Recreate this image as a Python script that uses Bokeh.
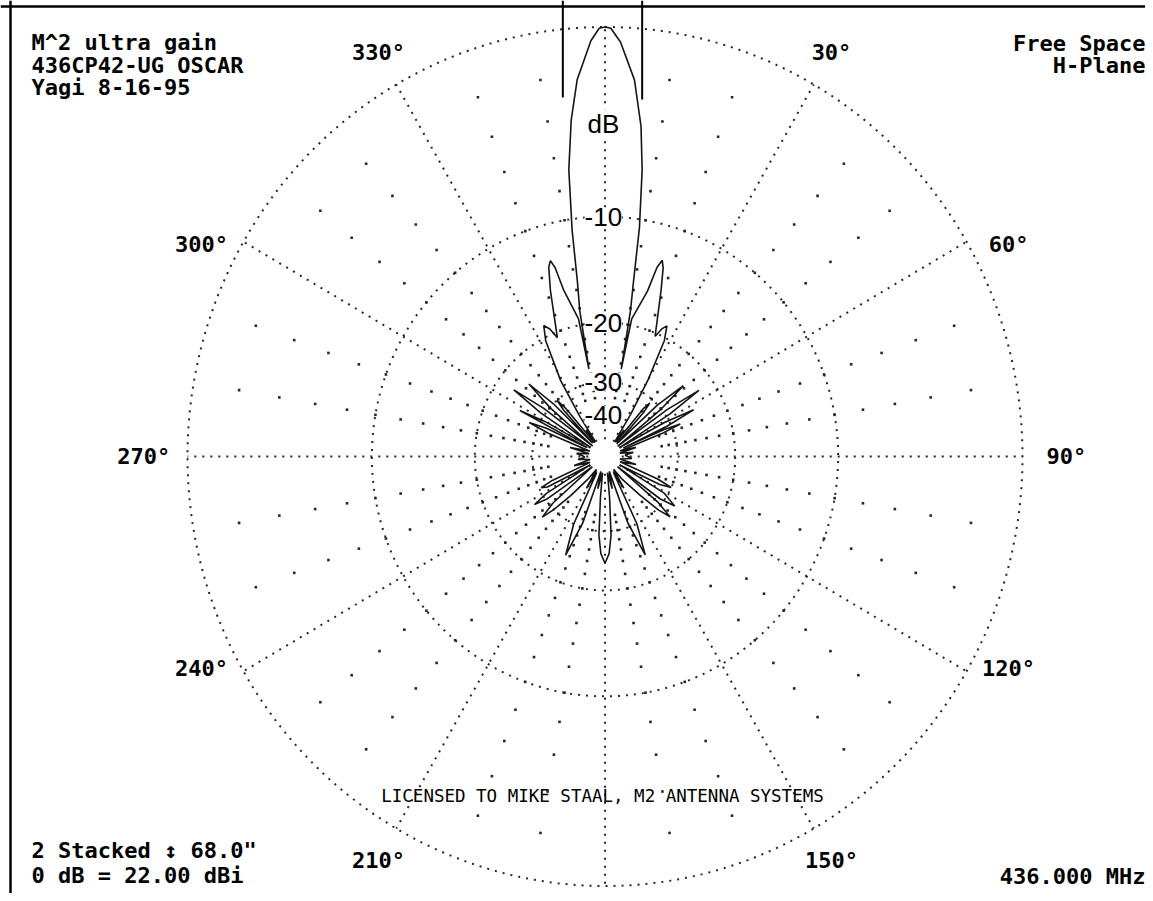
import numpy as np
from bokeh.plotting import figure
from bokeh.models import Range1d, Label, Span
from bokeh.core.properties import value
from bokeh.embed import file_html
from bokeh.resources import INLINE

# ---------------- data ----------------
# azimuth in degrees (clockwise from the front, 0 = top) and relative gain in dB
pattern_az = [
    -180, -177.5, -175.5, -173.5, -171, -167, -164, -161, -157.7, -154.5,
    -152, -149, -146, -142, -138, -135.2, -133.2, -131, -128, -125.5,
    -123.5, -121.5, -119, -117.2, -115.5, -113.8, -111, -106, -101, -96,
    -92, -88, -84, -80, -76, -71, -68.2, -66.5, -64.9, -64.0,
    -63.9, -62.3, -60.4, -58.5, -56.6, -54.6, -52.6, -50.5, -49.2, -47.2,
    -45.2, -43.5, -42.6, -41.3, -40.0, -38.5, -36, -33.8, -32.9, -31,
    -27.8, -25.7, -24, -22.4, -18.7, -17, -16, -15.2, -14.3, -11.2,
    -10.7, -10.1, -9.2, -8.5, -7.4, -5.9, -4.35, -2.0, -0.8, 0,
    0.8, 2.2, 4.6, 6.4, 7.6, 8.8, 9.5, 10.2, 10.8, 11.3,
    14.8, 15.8, 16.7, 17.6, 19.2, 23.2, 24.6, 26, 27.8, 30,
    32, 34.5, 36.5, 38.5, 39.6, 40.8, 42.0, 43.5, 46.4, 48.7,
    50.6, 52, 53.7, 55.6, 57.5, 59.3, 61.0, 62.9, 64.6, 65.4,
    66.0, 67.2, 68.6, 70.5, 74, 78, 82, 86, 90, 94,
    99, 104, 109, 112.6, 114.5, 116.4, 119, 121.0, 124.6, 126.8,
    128.5, 130.0, 132, 134.2, 137, 142, 145.5, 148.5, 151.5, 154,
    157.2, 160.5, 163.5, 167, 171, 173.5, 175.5, 177.5, 180,
]
pattern_db = [
    -23.9, -25.5, -29.0, -40.0, -56.0, -44.0, -57.0, -31.0, -23.9, -30.0,
    -54.0, -42.0, -57.0, -46.0, -36.0, -30.0, -27.1, -31.0, -56.0, -30.5,
    -27.4, -31.0, -55.0, -32.0, -30.5, -34.0, -56.0, -44.0, -57.0, -47.0,
    -52.0, -50.0, -46.0, -56.0, -42.0, -56.0, -33.0, -27.8, -32.0, -52.0,
    -52.0, -25.2, -31.0, -55.0, -29.0, -22.6, -29.0, -56.0, -30.0, -23.9,
    -30.0, -54.0, -33.0, -30.0, -33.0, -55.0, -44.0, -55.0, -38.0, -27.1,
    -20.4, -18.6, -19.3, -20.7, -15.4, -13.3, -12.8, -13.5, -15.8, -19.2,
    -27.0, -18.3, -15.1, -10.8, -6.8, -4.1, -2.2, -0.55, -0.05, 0.0,
    -0.05, -0.6, -2.2, -4.4, -6.8, -10.6, -15.1, -18.3, -27.0, -19.2,
    -15.8, -13.4, -12.7, -13.3, -15.4, -20.4, -19.2, -18.6, -20.4, -27.0,
    -37.0, -55.0, -44.0, -54.0, -33.0, -31.0, -34.0, -55.0, -30.0, -23.8,
    -30.0, -56.0, -29.0, -22.3, -29.0, -55.0, -31.0, -24.6, -31.0, -52.0,
    -32.0, -28.0, -33.0, -56.0, -44.0, -57.0, -46.0, -52.0, -50.0, -47.0,
    -57.0, -44.0, -56.0, -34.0, -30.0, -33.0, -55.0, -31.0, -27.4, -31.0,
    -56.0, -31.0, -26.8, -29.5, -36.0, -46.0, -57.0, -42.0, -54.0, -30.0,
    -23.9, -31.0, -57.0, -44.0, -56.0, -40.0, -29.0, -25.5, -23.9,
]

grid_db = [0, -10, -20, -30]                       # dotted rings
spoke_az = [0, 30, 60, 90, 120, 150, 180, 210, 240, 270, 300, 330]
minor_az = [a for a in range(0, 360, 10) if a % 30 != 0]
minor_db_step = [-2 * k for k in range(1, 18)]     # dots every 2 dB

ring_labels = ["30°", "60°", "90°", "120°", "150°", "210°", "240°", "270°", "300°", "330°"]
ring_label_az = [30, 60, 90, 120, 150, 210, 240, 270, 300, 330]

db_labels = ["dB", "-10", "-20", "-30", "-40"]
db_label_levels = [-4.4, -10, -20, -30, -40]

title_lines = ["M^2 ultra gain", "436CP42-UG OSCAR", "Yagi 8-16-95"]
right_lines = ["Free Space", "H-Plane"]
bottom_lines = ["2 Stacked \u2195 68.0\"", "0 dB = 22.00 dBi"]
freq_text = "436.000 MHz"
license_text = "LICENSED TO MIKE STAAL, M2 ANTENNA SYSTEMS"
beam_marker_x = [-0.101, 0.089]   # the two marker lines above the main lobe


# ---------------- ARRL log polar scale ----------------
def arrl_r(db):
    return 0.89 ** (-np.asarray(db, dtype=float) / 2.0)


def to_xy(az_deg, r):
    a = np.radians(np.asarray(az_deg, dtype=float))
    return r * np.sin(a), r * np.cos(a)


W, H = 1145, 893
cx, cy = 604.5, 456.0          # centre in canvas pixels
sx, sy = 417.5, 429.5          # pixels per unit radius

p = figure(width=W, height=H,
           x_range=Range1d(-cx / sx, (W - cx) / sx),
           y_range=Range1d(-(H - cy) / sy, cy / sy),
           output_backend="svg", toolbar_location=None,
           x_axis_location=None, y_axis_location=None,
           min_border=0, match_aspect=False)
p.grid.visible = False
p.outline_line_color = None
p.background_fill_color = "white"
p.border_fill_color = "white"

GRID_COL = "#262626"
theta = np.linspace(0, 360, 721)
for d in grid_db:
    gx, gy = to_xy(theta, arrl_r(d))
    p.line(gx, gy, line_color=GRID_COL, line_width=2, line_dash="2 6")

sx0, sy0 = to_xy(spoke_az, 0.04)
sx1, sy1 = to_xy(spoke_az, 1.0)
p.segment(x0=sx0, y0=sy0, x1=sx1, y1=sy1, line_color=GRID_COL,
          line_width=2, line_dash="2 6")

ma, md = np.meshgrid(minor_az, minor_db_step)
mx, my = to_xy(ma.ravel(), arrl_r(md.ravel()))
p.scatter(mx, my, marker="square", size=2.6, fill_color=GRID_COL, line_color=None)

# pattern trace
px, py = to_xy(pattern_az, arrl_r(pattern_db))
p.line(px, py, line_color="#151515", line_width=1.6)

# beam marker lines at the top
top_y = cy / sy
p.segment(x0=beam_marker_x, y0=[top_y, top_y], x1=beam_marker_x,
          y1=[(cy - 97) / sy, (cy - 99) / sy], line_color="black", line_width=2)

# frame lines (top and left)
p.add_layout(Span(location=(cy - 6) / sy, dimension="width",
                  line_color="black", line_width=2.5))
p.add_layout(Span(location=(10 - cx) / sx, dimension="height",
                  line_color="black", line_width=2.5))

# ring labels (the 60-degree family sits a little nearer the horizontal)
shift = {60: 3, 240: 3, 120: -3, 300: -3}
lab_az = [a + shift.get(a, 0) for a in ring_label_az]
lab_r = np.array([1.105 if a in (90, 270) else 1.085 for a in ring_label_az])
lx, ly = to_xy(lab_az, lab_r)
p.text(lx, ly, text=ring_labels, text_font=value("DejaVu Sans Mono"),
       text_font_size="22px", text_font_style="bold", text_align="center",
       text_baseline="middle", text_color="black")

# dB scale labels on the 0 deg axis
dx, dy = to_xy([0] * len(db_labels), arrl_r(db_label_levels))
p.text(dx - 0.004, dy, text=db_labels, text_font=value("Liberation Sans"),
       text_font_size="26px", text_align="center", text_baseline="middle",
       text_color="black", background_fill_color="white")

MONO = "DejaVu Sans Mono"


def lab(x, y, t, align="left", size="22px", style="bold"):
    p.add_layout(Label(x=x, y=H - y, x_units="screen", y_units="screen",
                       text=t, text_font=MONO, text_font_size=size,
                       text_font_style=style, text_align=align,
                       text_baseline="alphabetic", text_color="black"))


for i, t in enumerate(title_lines):
    lab(31, 42 + 22.5 * i, t)
for i, t in enumerate(right_lines):
    lab(1145, 43 + 22 * i, t, align="right")
for i, t in enumerate(bottom_lines):
    lab(31, 850 + 25 * i, t)
lab(1145, 876, freq_text, align="right")
lab(602, 795, license_text, align="center", size="17.5px", style="normal")

open("out.html", "w").write(file_html(p, INLINE))
